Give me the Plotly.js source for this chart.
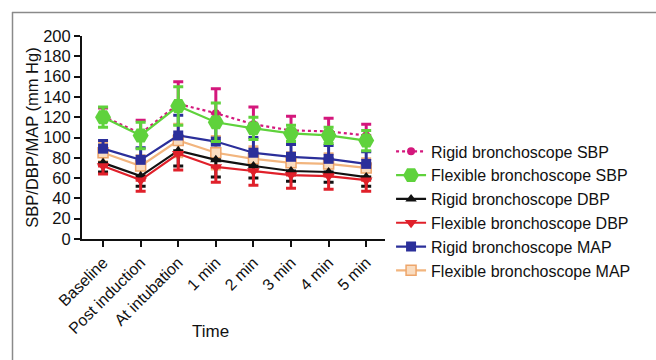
<!DOCTYPE html>
<html><head><meta charset="utf-8">
<script src="https://cdn.plot.ly/plotly-3.0.1.min.js"></script>
<style>html,body{margin:0;padding:0;background:#fff}#chart{width:656px;height:360px}</style>
</head><body><div id="chart"></div>
<script>
const categories = ["Baseline","Post induction","At intubation","1 min","2 min","3 min","4 min","5 min"];
const rigidSBP = [121, 104, 133, 124, 113, 107, 106, 102];
const rigidSBPsd = [8, 13, 22, 24, 17, 14, 13, 11];
const flexSBP = [120, 102, 131, 115, 109, 104, 102, 97];
const flexSBPsd = [10, 13, 19, 19, 11, 8, 8, 10];
const rigidDBP = [75, 62, 87, 78, 72, 67, 66, 61];
const rigidDBPsd = [9, 10, 15, 17, 12, 10, 10, 9];
const flexDBP = [72, 58, 84, 71, 67, 63, 62, 58];
const flexDBPsd = [8, 11, 16, 15, 14, 13, 13, 11];
const rigidMAP = [89, 78, 102, 96, 85, 81, 79, 74];
const rigidMAPsd = [8, 12, 20, 18, 15, 12, 13, 12];
const flexMAP = [85, 72, 97, 85, 79, 75, 74, 70];
const flexMAPsd = [9, 10, 16, 16, 12, 10, 10, 9];
const yTicks = [0,20,40,60,80,100,120,140,160,180,200];

const x = categories.map((c,i)=>i);
function err(sd, color, dir){
  const e = {type:'data', array: sd, visible:true, color:color, thickness:3, width:5};
  if(dir==='up'){ e.symmetric=false; e.arrayminus = sd.map(()=>0); }
  if(dir==='down'){ e.symmetric=false; e.arrayminus = sd; e.array = sd.map(()=>0); }
  return e;
}
const traces = [
  {name:'Flexible bronchoscope MAP', y:flexMAP, color:'#f2b57e', sd:flexMAPsd, dir:'both', dash:'solid', marker:{symbol:'square', size:10, color:'#f9dcc0', line:{color:'#eea56a', width:1.5}}},
  {name:'Rigid bronchoscope MAP', y:rigidMAP, color:'#2b2f9a', sd:rigidMAPsd, dir:'up', dash:'solid', marker:{symbol:'square', size:10, color:'#2b2f9a'}},
  {name:'Rigid bronchoscope DBP', y:rigidDBP, color:'#111111', sd:rigidDBPsd, dir:'down', dash:'solid', marker:{symbol:'triangle-up', size:10, color:'#111111'}},
  {name:'Flexible bronchoscope DBP', y:flexDBP, color:'#e0202a', sd:flexDBPsd, dir:'down', dash:'solid', marker:{symbol:'triangle-down', size:11, color:'#e0202a'}},
  {name:'Rigid bronchoscope SBP', y:rigidSBP, color:'#d4177c', sd:rigidSBPsd, dir:'up', dash:'dot', marker:{symbol:'circle', size:8, color:'#d4177c'}},
  {name:'Flexible bronchoscope SBP', y:flexSBP, color:'#5fd23c', sd:flexSBPsd, dir:'both', dash:'solid', marker:{symbol:'hexagon2', size:16, color:'#5fd23c'}},
];
const legendOrder = {'Rigid bronchoscope SBP':1,'Flexible bronchoscope SBP':2,'Rigid bronchoscope DBP':3,'Flexible bronchoscope DBP':4,'Rigid bronchoscope MAP':5,'Flexible bronchoscope MAP':6};
const data = traces.map(t=>({
  type:'scatter', mode:'lines+markers', name:t.name, x:x, y:t.y,
  line:{color:t.color, width:2.2, dash:t.dash}, marker:t.marker,
  error_y: err(t.sd, t.color, t.dir), legendrank: legendOrder[t.name]
}));
const font = {family:'"Liberation Sans", Arial, sans-serif', color:'#111', size:16};
const pw = 303, ph = 203;
const px = v => (v-82)/pw, py = v => (360-121 - v)/ph;
const layout = {
  width:656, height:360,
  margin:{l:82, r:271, t:36, b:121, pad:0},
  paper_bgcolor:'#fff', plot_bgcolor:'#fff',
  font: font,
  showlegend:true,
  legend:{x:1.02, xanchor:'left', y:0.515, yanchor:'top', font:{size:16, family:font.family, color:'#111'}, tracegroupgap:0, itemwidth:30, bgcolor:'rgba(0,0,0,0)'},
  xaxis:{range:[-0.56,7.5], tickmode:'array', tickvals:x, ticktext:categories, tickangle:-45,
    showline:true, linecolor:'#111', linewidth:2, ticks:'outside', ticklen:6, tickwidth:2, tickcolor:'#111',
    showgrid:false, zeroline:false, tickfont:{size:16}},
  yaxis:{range:[0,200], tickmode:'array', tickvals:yTicks, ticktext:yTicks.map(String),
    showline:true, linecolor:'#111', linewidth:2, ticks:'outside', ticklen:6, tickwidth:2, tickcolor:'#111',
    showgrid:false, zeroline:false, tickfont:{size:16.5}, title:{text:'SBP/DBP/MAP (mm Hg)', font:{size:16.5}, standoff:0}},
  annotations:[
    {text:'Time', xref:'paper', yref:'paper', x:px(210), y:py(331), xanchor:'center', yanchor:'middle', showarrow:false, font:{size:17, family:font.family, color:'#111'}}
  ],
  shapes:[
    {type:'line', xref:'paper', yref:'paper', x0:px(12), x1:px(656), y0:py(12.5), y1:py(12.5), line:{color:'#8a8a8a', width:1.5}},
    {type:'line', xref:'paper', yref:'paper', x0:px(12.5), x1:px(12.5), y0:py(12), y1:py(360), line:{color:'#8a8a8a', width:1.5}}
  ]
};
Plotly.newPlot('chart', data, layout, {displayModeBar:false, staticPlot:true});
</script></body></html>
